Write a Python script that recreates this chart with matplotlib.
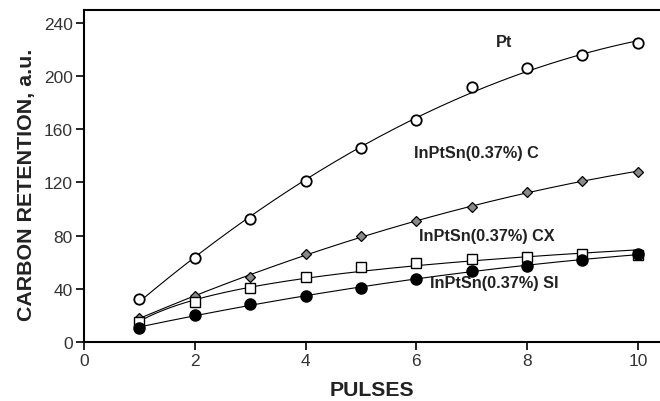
import numpy as np
import matplotlib
matplotlib.use("Agg")
import matplotlib.pyplot as plt

plt.rcParams['font.family'] = ['Liberation Sans', 'DejaVu Sans']

# pulses and carbon retention values
pulses = np.array([1, 2, 3, 4, 5, 6, 7, 8, 9, 10])
pt = [32.5, 62.9, 92.5, 120.9, 145.8, 167.3, 192.2, 206.0, 216.0, 225.0]
c_cat = [17.9, 34.7, 49.0, 66.1, 79.4, 90.7, 101.3, 113.0, 121.4, 128.1]
cx_cat = [15.0, 29.7, 40.2, 49.0, 56.5, 59.3, 62.1, 63.6, 66.1, 65.5]
si_cat = [10.3, 20.1, 28.4, 34.7, 40.5, 47.3, 53.1, 57.3, 61.6, 66.1]

labels = ["Pt", "InPtSn(0.37%) C", "InPtSn(0.37%) CX", "InPtSn(0.37%) SI"]
label_pos = [(7.58, 226.4, 'center'), (5.96, 142.8, 'left'),
             (6.05, 80.4, 'left'), (6.25, 44.8, 'left')]

fig = plt.figure(figsize=(6.6, 4.02), dpi=100)
ax = fig.add_axes([0.1273, 0.1475, 0.8727, 0.8251])

xx = np.linspace(1, 10, 200)

# trend lines
for ys, kind in [(pt, 'poly'), (c_cat, 'poly'), (cx_cat, 'log'), (si_cat, 'poly')]:
    if kind == 'log':
        k = np.polyfit(np.log(pulses), ys, 1)
        yy = np.polyval(k, np.log(xx))
    else:
        k = np.polyfit(pulses, ys, 2)
        yy = np.polyval(k, xx)
    ax.plot(xx, yy, color='black', lw=0.8, zorder=2)

ax.plot(pulses, pt, 'o', ms=7.5, mfc='white', mec='black', mew=1.3, zorder=3)
ax.plot(pulses, c_cat, 'D', ms=5.5, mfc='#8a8a8a', mec='black', mew=0.9, zorder=3)
ax.plot(pulses, cx_cat, 's', ms=6.5, mfc='white', mec='black', mew=1.0, zorder=3)
ax.plot(pulses, si_cat, 'o', ms=8, mfc='black', mec='black', zorder=4)

for txt, (x, y, ha) in zip(labels, label_pos):
    ax.text(x, y, txt, ha=ha, va='center', fontsize=11.7, fontweight='bold',
            color='#222222')

ax.set_xlim(0, 10.4)
ax.set_ylim(0, 250)
ax.set_xticks([0, 2, 4, 6, 8, 10])
ax.set_yticks([0, 40, 80, 120, 160, 200, 240])

for s in ['left', 'bottom', 'top']:
    ax.spines[s].set_linewidth(1.5)
ax.spines['right'].set_visible(False)
ax.tick_params(direction='out', length=6, width=1.2, labelsize=12.5,
               labelcolor='#333333', pad=2)

ax.set_xlabel("PULSES", fontsize=15.3, fontweight='bold', color='#222222', labelpad=9)
ax.set_ylabel("CARBON RETENTION, a.u.", fontsize=15.4, fontweight='bold',
              color='#222222')
ax.yaxis.set_label_coords(-0.083, 0.475)

fig.savefig("out.png", dpi=100)
